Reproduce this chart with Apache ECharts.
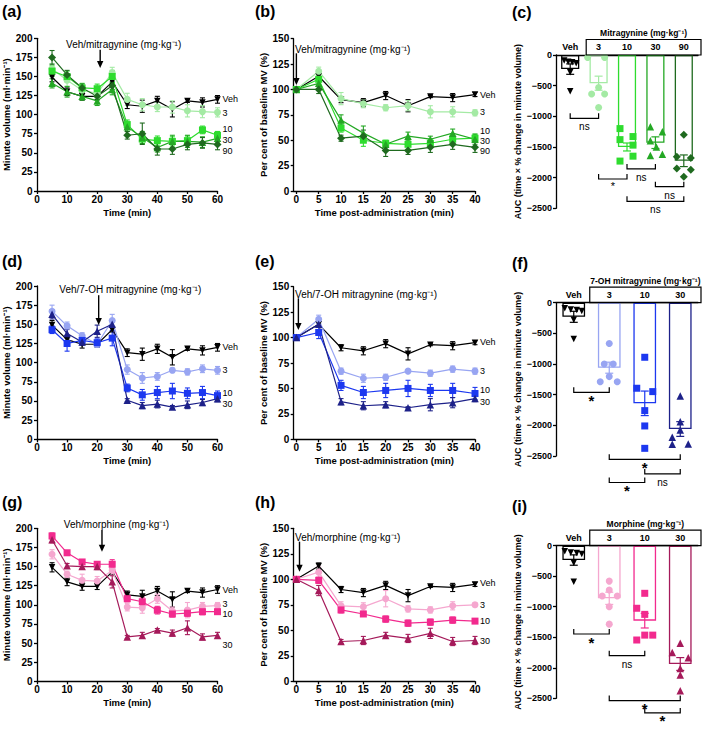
<!DOCTYPE html>
<html><head><meta charset="utf-8">
<script src="https://cdn.jsdelivr.net/npm/echarts@6/dist/echarts.min.js"></script>
<style>html,body{margin:0;padding:0;background:#fff}#c{width:709px;height:729px}</style>
</head><body><div id="c"></div>
<script>
// ================= DATA =================
const timeMV  = [5,10,15,20,25,30,35,40,45,50,55,60];
const timePct = [0,5,10,15,20,25,30,35,40];
const ticksPct = [0,5,10,15,20,25,30,35,40];
const catsMit = ['Veh','3','10','30','90'];
const catsOH  = ['Veh','3','10','30'];
const catsMor = ['Veh','3','10','30'];

// Minute volume (ml/min): mean, SEM
const vehMV      = [149,130,124,124,143,113,111,118,107,118,116,120];
const vehMVSem   = [6,5,5,4,3,5,8,6,10,2,6,5];
const mit3MV     = [160,145,132,128,155,120,113,110,110,105,104,103];
const mit3MVSem  = [7,8,6,5,7,8,8,6,8,8,8,6];
const mit10MV    = [157,150,135,134,150,87,68,66,65,66,80,73];
const mit10MVSem = [7,7,6,6,8,6,6,6,6,6,5,5];
const mit30MV    = [141,130,124,118,133,84,70,57,65,65,64,69];
const mit30MVSem = [6,7,5,6,7,6,8,6,8,8,7,5];
const mit90MV    = [175,152,135,124,138,73,75,55,55,61,63,61];
const mit90MVSem = [9,6,5,5,5,5,14,8,7,7,7,7];

const oh3MV      = [167,148,135,124,155,91,80,82,90,88,92,90];
const oh3MVSem   = [8,5,4,4,8,6,7,5,3,4,5,5];
const oh10MV     = [143,125,129,126,132,67,58,61,63,60,61,57];
const oh10MVSem  = [5,10,6,5,10,5,7,8,10,7,8,6];
const oh30MV     = [163,138,127,141,150,51,44,46,42,45,48,53];
const oh30MVSem  = [6,6,4,8,3,2,4,5,2,5,4,4];

const mor3MV     = [166,140,132,131,145,97,96,108,92,93,98,99];
const mor3MVSem  = [6,4,8,6,6,5,7,6,5,10,5,4];
const mor10MV    = [190,168,156,153,153,108,104,93,88,89,91,91];
const mor10MVSem = [4,2,2,2,6,4,6,5,4,4,4,3];
const mor30MV    = [185,151,150,150,130,58,60,67,63,70,58,60];
const mor30MVSem = [4,3,3,4,8,2,4,2,4,9,4,4];

// Per cent of baseline MV: mean, SEM
const vehPct      = [100,113,90,87,94,84,93,92,95];
const vehPctSem   = [0,3,3,4,4,6,1,4,2];
const mit3Pct     = [100,118,91,86,82,84,78,78,77];
const mit3PctSem  = [0,4,6,4,3,5,6,5,3];
const mit10Pct    = [100,110,62,50,47,46,47,51,52];
const mit10PctSem = [0,7,4,6,3,5,4,4,4];
const mit30Pct    = [100,106,70,57,46,54,51,57,51];
const mit30PctSem = [0,5,5,7,3,4,3,4,5];
const mit90Pct    = [100,100,52,54,40,40,43,46,43];
const mit90PctSem = [0,4,3,6,6,4,5,5,5];

const oh3Pct      = [100,118,67,60,61,67,65,69,67];
const oh3PctSem   = [0,4,3,4,3,1,3,3,3];
const oh10Pct     = [100,105,53,46,48,50,48,48,45];
const oh10PctSem  = [0,6,5,6,7,8,6,7,6];
const oh30Pct     = [100,113,37,33,34,31,34,36,40];
const oh30PctSem  = [0,3,3,4,3,1,6,5,3];

const mor3Pct     = [100,107,74,73,81,71,70,74,75];
const mor3PctSem  = [0,5,4,4,8,3,3,4,2];
const mor10Pct    = [100,99,70,66,61,57,58,60,59];
const mor10PctSem = [0,3,3,2,3,3,3,3,2];
const mor30Pct    = [100,89,39,40,45,42,47,39,40];
const mor30PctSem = [0,5,2,4,3,4,5,4,4];

// AUC individual animals, group mean and SEM
const vehAUC    = [-90,-110,-120,-135,-280,-590];
const mitAUC3   = [-40,-40,-530,-635,-635,-855];
const mitAUC10  = [-1200,-1330,-1380,-1470,-1650,-1730];
const mitAUC30  = [-1170,-1250,-1400,-1500,-1640,-1620];
const mitAUC90  = [-1300,-1660,-1680,-1850,-1870,-1985];
const mitAUCMean = [-230,-460,-1500,-1430,-1725];
const mitAUCSem  = [85,115,65,95,95];

const ohAUC3    = [-665,-1000,-1000,-1205,-1290,-1290];
const ohAUC10   = [-890,-1395,-1450,-1760,-2010,-2375];
const ohAUC30   = [-1520,-1940,-2075,-2195,-2310,-2305];
const ohAUCMean = [-230,-1060,-1641,-2060];
const ohAUCSem  = [90,90,200,120];

const morAUC3   = [-580,-725,-825,-825,-1000,-1285];
const morAUC10  = [-780,-1025,-1125,-1465,-1465,-1545];
const morAUC30  = [-1600,-1750,-1835,-2010,-2120,-2375];
const morAUCMean = [-235,-862,-1228,-1938];
const morAUCSem  = [85,100,120,105];

// significance comparisons: [groupA, groupB], level, text
const sigPairsC  = [[0,1],[1,2],[2,3],[3,4],[2,4]];
const sigLevelC  = [-1033,-2022,-1858,-2147,-2386];
const sigTextC   = ['ns','*','ns','ns','ns'];
const sigPairsF  = [[0,1],[1,3],[2,3],[1,2]];
const sigLevelF  = [-1461,-2554,-2793,-2932];
const sigTextF   = ['*','*','ns','*'];
const sigPairsI  = [[0,1],[1,2],[1,3],[2,3]];
const sigLevelI  = [-1447,-1801,-2538,-2740];
const sigTextI   = ['*','ns','*','*'];

// ================= STYLE / LAYOUT =================
const FONT = '"Liberation Sans", Arial, Helvetica, sans-serif';
const AXC = {color:'#000', width:1.3};
const STY = {
  veh:{color:'#000000', symbol:'triangle', rotate:180, size:6.5},
  m3:{color:'#a4eaa4', symbol:'circle', size:7},
  m10:{color:'#2edc2e', symbol:'rect', size:7},
  m30:{color:'#24a824', symbol:'triangle', size:7.5},
  m90:{color:'#1f6a1f', symbol:'diamond', size:8},
  o3:{color:'#98a5f2', symbol:'circle', size:7},
  o10:{color:'#1c38f0', symbol:'rect', size:7},
  o30:{color:'#1d2189', symbol:'triangle', size:7.5},
  p3:{color:'#f5a7cf', symbol:'circle', size:7},
  p10:{color:'#f22a8e', symbol:'rect', size:7},
  p30:{color:'#a51a5a', symbol:'triangle', size:7.5}
};
const GRIDS = [
  {left:37,    top:38.3,  width:180.5, height:152.7},
  {left:293.7, top:38.7,  width:181.3, height:152.3},
  {left:556,   top:55,    width:142,   height:153.3},
  {left:37,    top:286,   width:180.5, height:153.3},
  {left:293.7, top:286.7, width:181.3, height:152.6},
  {left:556,   top:302.7, width:142,   height:153.3},
  {left:37,    top:528.3, width:180.5, height:153},
  {left:293.7, top:528.3, width:181.3, height:153},
  {left:556,   top:545.7, width:142,   height:152.6}
];
// jitter of individual points (px)
const JIT = {
  c:[[-6,-2,2,6,0,0],[-11,6,0,-7,6,0],[-7,6,-7,6,6,-7],[-5,7,-5,1,-5,7],[0,-7,7,-7,7,0]],
  f:[[-9,-3,3,8,0,0],[0,-5,4,0,-9,8],[0,-8,8,0,0,0],[0,0,0,-8,-8,8]],
  i:[[-9,-3,3,8,0,0],[0,0,-7,8,0,0],[0,-8,0,0,8,-8],[0,-8,8,0,0,0]]
};

const panelsLine = [
  {gi:0, t:timeMV, xmin:0, xmax:60, xint:10, ymax:200, xname:'Time (min)', yname:'Minute volume (ml·min⁻¹)', ygap:24,
   annot:{text:'Veh/mitragynine (mg·kg⁻¹)', v:[21,185,161,28.8,192.5], align:'center'},
   groups:[['Veh',vehMV,vehMVSem,'veh',0],['3',mit3MV,mit3MVSem,'m3',1],['10',mit10MV,mit10MVSem,'m10',-6],['30',mit30MV,mit30MVSem,'m30',1.5],['90',mit90MV,mit90MVSem,'m90',7]]},
  {gi:1, t:timePct, xmin:-0.6, xmax:40, ticks:ticksPct, ymax:150, xname:'Time post-administration (min)', yname:'Per cent of baseline MV (%)', ygap:22,
   annot:{text:'Veh/mitragynine (mg·kg⁻¹)', v:[0,135.6,104.4,-0.3,139.6], align:'left'},
   groups:[['Veh',vehPct,vehPctSem,'veh',0],['3',mit3Pct,mit3PctSem,'m3',-1],['10',mit10Pct,mit10PctSem,'m10',-7.5],['30',mit30Pct,mit30PctSem,'m30',2],['90',mit90Pct,mit90PctSem,'m90',3.5]]},
  {gi:3, t:timeMV, xmin:0, xmax:60, xint:10, ymax:200, xname:'Time (min)', yname:'Minute volume (ml·min⁻¹)', ygap:24,
   annot:{text:'Veh/7-OH mitragynine (mg·kg⁻¹)', v:[20.5,188,149,31,195], align:'center'},
   groups:[['Veh',vehMV,vehMVSem,'veh',0],['3',oh3MV,oh3MVSem,'o3',0],['10',oh10MV,oh10MVSem,'o10',-3],['30',oh30MV,oh30MVSem,'o30',5]]},
  {gi:4, t:timePct, xmin:-0.6, xmax:40, ticks:ticksPct, ymax:150, xname:'Time post-administration (min)', yname:'Per cent of baseline MV (%)', ygap:22,
   annot:{text:'Veh/7-OH mitragynine (mg·kg⁻¹)', v:[0.45,138.6,107.5,-0.3,142.5], align:'left'},
   groups:[['Veh',vehPct,vehPctSem,'veh',-1],['3',oh3Pct,oh3PctSem,'o3',0],['10',oh10Pct,oh10PctSem,'o10',-3.5],['30',oh30Pct,oh30PctSem,'o30',3]]},
  {gi:6, t:timeMV, xmin:0, xmax:60, xint:10, ymax:200, xname:'Time (min)', yname:'Minute volume (ml·min⁻¹)', ygap:24,
   annot:{text:'Veh/morphine (mg·kg⁻¹)', v:[21.6,197.8,169.4,26.4,205.6], align:'center'},
   groups:[['Veh',vehMV,vehMVSem,'veh',0],['3',mor3MV,mor3MVSem,'p3',-2],['10',mor10MV,mor10MVSem,'p10',2],['30',mor30MV,mor30MVSem,'p30',10]]},
  {gi:7, t:timePct, xmin:-0.6, xmax:40, ticks:ticksPct, ymax:150, xname:'Time post-administration (min)', yname:'Per cent of baseline MV (%)', ygap:22,
   annot:{text:'Veh/morphine (mg·kg⁻¹)', v:[0.7,136.9,107.5,-0.3,141], align:'left'},
   groups:[['Veh',vehPct,vehPctSem,'veh',-1],['3',mor3Pct,mor3PctSem,'p3',0],['10',mor10Pct,mor10PctSem,'p10',0],['30',mor30Pct,mor30PctSem,'p30',0]]}
];
const panelsBar = [
  {gi:2, cats:catsMit, head:'Mitragynine (mg·kg⁻¹)', pts:[vehAUC,mitAUC3,mitAUC10,mitAUC30,mitAUC90], mean:mitAUCMean, sem:mitAUCSem,
   sty:['veh','m3','m10','m30','m90'], jit:JIT.c, pairs:sigPairsC, lev:sigLevelC, txt:sigTextC, star:11, starBold:false},
  {gi:5, cats:catsOH, head:'7-OH mitragynine (mg·kg⁻¹)', pts:[vehAUC,ohAUC3,ohAUC10,ohAUC30], mean:ohAUCMean, sem:ohAUCSem,
   sty:['veh','o3','o10','o30'], jit:JIT.f, pairs:sigPairsF, lev:sigLevelF, txt:sigTextF, star:15, starBold:true},
  {gi:8, cats:catsMor, head:'Morphine (mg·kg⁻¹)', pts:[vehAUC,morAUC3,morAUC10,morAUC30], mean:morAUCMean, sem:morAUCSem,
   sty:['veh','p3','p10','p30'], jit:JIT.i, pairs:sigPairsI, lev:sigLevelI, txt:sigTextI, star:15, starBold:true}
];

// ================= BUILD =================
const grid = GRIDS.map(g => Object.assign({outerBoundsMode:'none', containLabel:false}, g));
const xAxis = [], yAxis = [], series = [];
const lbl = (extra) => Object.assign({color:'#000', fontSize:10, fontWeight:'bold', fontFamily:FONT}, extra||{});
const nameStyle = (fs) => ({color:'#000', fontSize:fs, fontWeight:'bold', fontFamily:FONT});

function errRender(color, cap, lw){
  return function(params, api){
    const x = api.value(0), m = api.value(1), e = api.value(2);
    if (!(e > 0)) return {type:'group', children:[]};
    const a = api.coord([x, m + e]), b = api.coord([x, m - e]);
    const st = {stroke:color, lineWidth:lw};
    return {type:'group', children:[
      {type:'line', shape:{x1:a[0], y1:a[1], x2:b[0], y2:b[1]}, style:st},
      {type:'line', shape:{x1:a[0]-cap/2, y1:a[1], x2:a[0]+cap/2, y2:a[1]}, style:st},
      {type:'line', shape:{x1:b[0]-cap/2, y1:b[1], x2:b[0]+cap/2, y2:b[1]}, style:st}
    ]};
  };
}
function annotRender(text, align){
  return function(params, api){
    const x = api.value(0);
    const p1 = api.coord([x, api.value(1)]), p2 = api.coord([x, api.value(2)]);
    const pt = api.coord([api.value(3), api.value(4)]);
    const hw = 3.2, hh = 7;
    return {type:'group', children:[
      {type:'line', shape:{x1:p1[0], y1:p1[1], x2:p2[0], y2:p2[1]-hh+1}, style:{stroke:'#000', lineWidth:1.4}},
      {type:'polygon', shape:{points:[[p2[0]-hw, p2[1]-hh],[p2[0]+hw, p2[1]-hh],[p2[0], p2[1]]]}, style:{fill:'#000'}},
      {type:'text', x:pt[0], y:pt[1], style:{text:text, fontSize:10, fontFamily:FONT, fill:'#000', align:align, verticalAlign:'middle'}}
    ]};
  };
}
function bracketRender(texts, star, starBold){
  return function(params, api){
    const i = api.value(0), y = api.value(1), j = api.value(2);
    const p1 = api.coord([i, y]), p2 = api.coord([j, y]);
    const h = 5;
    const t = texts[params.dataIndex];
    const isStar = t === '*';
    return {type:'group', children:[
      {type:'polyline', shape:{points:[[p1[0], p1[1]-h],[p1[0], p1[1]],[p2[0], p2[1]],[p2[0], p2[1]-h]]},
       style:{stroke:'#000', lineWidth:1.2, fill:'none'}},
      {type:'text', x:(p1[0]+p2[0])/2, y:p1[1] + (isStar ? 5 + star*0.2 : 8.5),
       style:{text:t, fontSize:isStar ? star : 10,
              fontWeight:(isStar && starBold) ? 'bold' : 'normal',
              fontFamily:FONT, fill:'#000', align:'center', verticalAlign:'middle'}}
    ]};
  };
}
function headRender(text, n){
  return function(params, api){
    const p0 = api.coord([0, 0]), pl = api.coord([n-1, 0]);
    const band = api.size([1, 0])[0];
    const left = p0[0] + 16, right = pl[0] + band/2 + 3, y0 = p0[1], top = y0 - 15.5;
    return {type:'group', children:[
      {type:'rect', shape:{x:left, y:top, width:right-left, height:y0-top}, style:{stroke:'#000', fill:'none', lineWidth:1.2}},
      {type:'text', x:(left+right)/2, y:top-6.5, style:{text:text, fontSize:8.5, fontWeight:'bold', fontFamily:FONT, fill:'#000', align:'center', verticalAlign:'middle'}}
    ]};
  };
}

panelsLine.forEach(p => {
  const xa = {type:'value', gridIndex:p.gi, min:p.xmin, max:p.xmax,
    axisLine:{show:true, onZero:false, lineStyle:AXC}, axisTick:{show:true, length:3, lineStyle:AXC},
    axisLabel:lbl({margin:3}), splitLine:{show:false},
    name:p.xname, nameLocation:'middle', nameGap:16, nameTextStyle:nameStyle(9.5)};
  if (p.ticks) { xa.axisTick.customValues = p.ticks; xa.axisLabel.customValues = p.ticks; }
  else { xa.interval = p.xint; }
  xAxis[p.gi] = xa;
  yAxis[p.gi] = {type:'value', gridIndex:p.gi, min:0, max:p.ymax, interval:25,
    axisLine:{show:true, onZero:false, lineStyle:AXC}, axisTick:{show:true, length:3, lineStyle:AXC},
    axisLabel:lbl({margin:4.5}), splitLine:{show:false},
    name:p.yname, nameLocation:'middle', nameGap:p.ygap, nameTextStyle:nameStyle(9.5)};
  p.groups.forEach(g => {
    const [name, vals, sem, sk, dy] = g; const s = STY[sk];
    series.push({type:'custom', xAxisIndex:p.gi, yAxisIndex:p.gi, clip:false, silent:true, z:2,
      data:p.t.map((t,k) => [t, vals[k], sem[k]]), renderItem:errRender(s.color, 5, 1.1)});
    series.push({type:'line', name:name, xAxisIndex:p.gi, yAxisIndex:p.gi, clip:false, silent:true, z:3,
      data:p.t.map((t,k) => [t, vals[k]]),
      symbol:s.symbol, symbolSize:s.size, symbolRotate:s.rotate || 0, showAllSymbol:true,
      lineStyle:{color:s.color, width:1.2}, itemStyle:{color:s.color},
      endLabel:{show:true, formatter:name, color:'#000', fontSize:9, lineHeight:9, fontFamily:FONT, distance:5, offset:[0, dy]}});
  });
  const a = p.annot;
  series.push({type:'custom', xAxisIndex:p.gi, yAxisIndex:p.gi, clip:false, silent:true, z:5,
    data:[a.v], renderItem:annotRender(a.text, a.align)});
});

panelsBar.forEach(p => {
  xAxis[p.gi] = {type:'category', gridIndex:p.gi, data:p.cats, position:'top',
    axisLine:{show:true, lineStyle:AXC}, axisTick:{show:false},
    axisLabel:lbl({fontSize:9, margin:3.5}), splitLine:{show:false}};
  yAxis[p.gi] = {type:'value', gridIndex:p.gi, min:-2500, max:0, interval:500,
    axisLine:{show:true, onZero:false, lineStyle:AXC}, axisTick:{show:true, length:3, lineStyle:AXC},
    axisLabel:lbl({fontSize:9, margin:4, formatter:v => v < 0 ? '\u2212' + Math.abs(v) : String(v)}), splitLine:{show:false},
    name:'AUC (time × % change in minute volume)', nameLocation:'middle', nameGap:33, nameTextStyle:nameStyle(9)};
  series.push({type:'bar', xAxisIndex:p.gi, yAxisIndex:p.gi, barWidth:'64%', silent:true, z:2,
    data:p.mean.map((m,k) => ({value:m, itemStyle:{color:'rgba(255,255,255,0)', borderColor:STY[p.sty[k]].color, borderWidth:1.3}}))});
  p.mean.forEach((m,k) => {
    const s = STY[p.sty[k]];
    series.push({type:'custom', xAxisIndex:p.gi, yAxisIndex:p.gi, clip:false, silent:true, z:3,
      data:[[k, m, p.sem[k]]], renderItem:errRender(s.color, 8, 1.2)});
    series.push({type:'scatter', xAxisIndex:p.gi, yAxisIndex:p.gi, clip:false, silent:true, z:4,
      symbol:s.symbol, symbolSize:s.size, symbolRotate:s.rotate || 0, itemStyle:{color:s.color, opacity:1},
      data:p.pts[k].map((v,n) => ({value:[k, v], symbolOffset:[p.jit[k][n], 0]}))});
  });
  series.push({type:'custom', xAxisIndex:p.gi, yAxisIndex:p.gi, clip:false, silent:true, z:5,
    data:p.pairs.map((pr,n) => [pr[0], p.lev[n], pr[1]]), renderItem:bracketRender(p.txt, p.star, p.starBold)});
  series.push({type:'custom', xAxisIndex:p.gi, yAxisIndex:p.gi, clip:false, silent:true, z:5,
    data:[[0, 0]], renderItem:headRender(p.head, p.cats.length)});
});

const letters = [['(a)',2,3],['(b)',255,3],['(c)',512,4],['(d)',2,253],['(e)',255,253],['(f)',512,255],['(g)',2,494],['(h)',255,494],['(i)',512,498]];
const title = letters.map(l => ({text:l[0], left:l[1], top:l[2], padding:0,
  textStyle:{fontSize:16, fontWeight:'bold', color:'#000', fontFamily:FONT}}));

const chart = echarts.init(document.getElementById('c'), null, {renderer:'svg', width:709, height:729});
chart.setOption({animation:false, backgroundColor:'#fff', title, grid, xAxis, yAxis, series});
</script>
</body></html>
